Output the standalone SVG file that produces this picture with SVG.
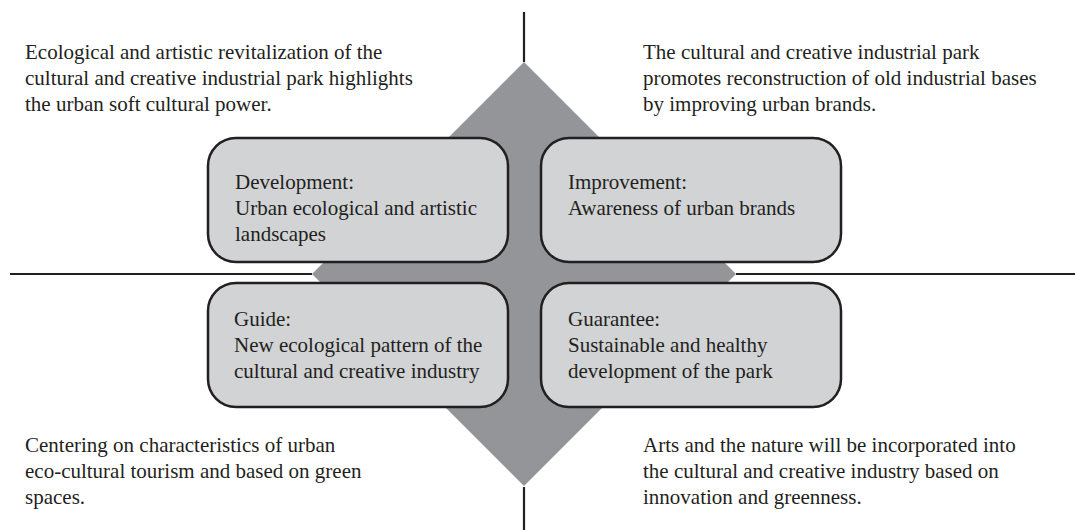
<svg xmlns="http://www.w3.org/2000/svg" width="1075" height="530" viewBox="0 0 1075 530" font-family="Liberation Serif, Times New Roman, DejaVu Serif, serif">
<style>
text{font-family:'Liberation Serif','Times New Roman','DejaVu Serif',serif;font-size:21px;fill:#231f20}
.box{fill:#d1d3d4;stroke:#231f20;stroke-width:2.5}
.ln{stroke:#231f20;stroke-width:2.2;fill:none}
</style>
<rect width="1075" height="530" fill="#ffffff"/>
<g id="connectors">
<line class="ln" x1="524" y1="12" x2="524" y2="62"/>
<line class="ln" x1="524" y1="487" x2="524" y2="530"/>
<line class="ln" x1="10" y1="274" x2="312" y2="274"/>
<line class="ln" x1="736" y1="274" x2="1075" y2="274"/>
</g>
<g id="diamond">
<polygon points="524,62 736,274 524,486 312,274" fill="#939598"/>
</g>
<g id="node-development">
<rect class="box" x="208" y="138" width="300" height="124" rx="28"/>
<text x="235" y="189">Development:</text>
<text x="235" y="215">Urban ecological and artistic</text>
<text x="235" y="241">landscapes</text>
</g>
<g id="node-improvement">
<rect class="box" x="541" y="138" width="300" height="124" rx="28"/>
<text x="568" y="189">Improvement:</text>
<text x="568" y="215">Awareness of urban brands</text>
</g>
<g id="node-guide">
<rect class="box" x="208" y="283" width="300" height="124" rx="28"/>
<text x="234" y="326">Guide:</text>
<text x="234" y="352">New ecological pattern of the</text>
<text x="234" y="378">cultural and creative industry</text>
</g>
<g id="node-guarantee">
<rect class="box" x="541" y="283" width="300" height="124" rx="28"/>
<text x="568" y="326">Guarantee:</text>
<text x="568" y="352">Sustainable and healthy</text>
<text x="568" y="378">development of the park</text>
</g>
<g id="note-top-left">
<text x="25" y="59">Ecological and artistic revitalization of the</text>
<text x="25" y="85">cultural and creative industrial park highlights</text>
<text x="25" y="111">the urban soft cultural power.</text>
</g>
<g id="note-top-right">
<text x="643" y="59">The cultural and creative industrial park</text>
<text x="643" y="85">promotes reconstruction of old industrial bases</text>
<text x="643" y="111">by improving urban brands.</text>
</g>
<g id="note-bottom-left">
<text x="25" y="452">Centering on characteristics of urban</text>
<text x="25" y="478">eco-cultural tourism and based on green</text>
<text x="25" y="504">spaces.</text>
</g>
<g id="note-bottom-right">
<text x="643" y="452">Arts and the nature will be incorporated into</text>
<text x="643" y="478">the cultural and creative industry based on</text>
<text x="643" y="504">innovation and greenness.</text>
</g>
</svg>
